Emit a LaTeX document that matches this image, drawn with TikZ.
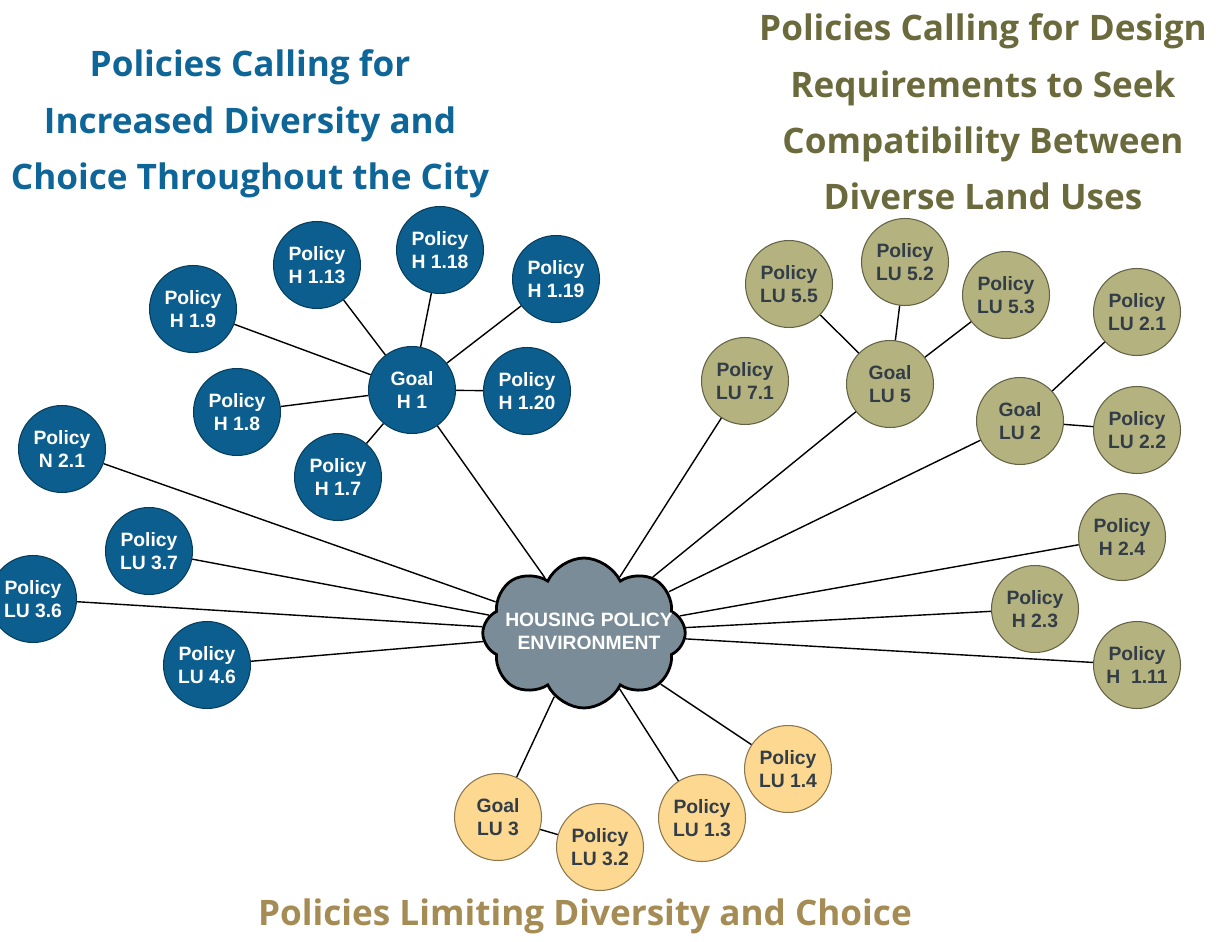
\documentclass[tikz,border=0pt]{standalone}
\usepackage{fontspec}
\setmainfont{Liberation Sans}
\newfontfamily\titrefont{Open Sans}
\usepackage{xcolor}
\usetikzlibrary{shapes.symbols, positioning}

\definecolor{bleuC}{HTML}{0B5E8E}
\definecolor{bleuT}{HTML}{0E6597}
\definecolor{oliveC}{HTML}{B4B380}
\definecolor{oliveT}{HTML}{6B6A3D}
\definecolor{sableC}{HTML}{FCD890}
\definecolor{sableT}{HTML}{A58C55}
\definecolor{nuageC}{HTML}{7A8C97}
\definecolor{encre}{HTML}{333D47}

\begin{document}
\begin{tikzpicture}[
  x=0.02cm, y=-0.02cm,
  pol/.style={circle, minimum size=1.74cm, inner sep=0pt, align=center, line width=0.6pt, font=\bfseries\fontsize{11}{12.8}\selectfont},
  bleu/.style={pol, fill=bleuC, draw=bleuC!65!black, text=white},
  olive/.style={pol, fill=oliveC, draw=oliveC!55!black, text=encre},
  sable/.style={pol, fill=sableC, draw=sableC!55!black, text=encre},
  lien/.style={line width=0.8pt, black},
  titre/.style={align=center, font=\titrefont\bfseries\fontsize{20}{32}\selectfont}
]
  \useasboundingbox (0,0) rectangle (1220,942);
  \begin{scope}
  \clip (0,0) rectangle (1220,942);

  % nuage central
  \node[cloud, cloud puffs=8, cloud puff arc=130, cloud ignores aspect, minimum width=4.05cm, minimum height=3.0cm, inner sep=0pt, draw=black, line width=1.6pt, fill=nuageC] (nuage) at (584,633) {};
  \node[align=center, text=white, font=\bfseries\fontsize{11}{13}\selectfont] (env) at (589,631) {HOUSING POLICY\\ ENVIRONMENT};

  % groupe bleu
  \node[bleu] (h1) at (412,390) {Goal\\ H 1};
  \node[bleu] (h113) at (317,265) {Policy\\ H 1.13};
  \node[bleu] (h118) at (440,250) {Policy\\ H 1.18};
  \node[bleu] (h119) at (556,279) {Policy\\ H 1.19};
  \node[bleu] (h19) at (193,309) {Policy\\ H 1.9};
  \node[bleu] (h120) at (527,391) {Policy\\ H 1.20};
  \node[bleu] (h18) at (237,412) {Policy\\ H 1.8};
  \node[bleu] (h17) at (338,477) {Policy\\ H 1.7};
  \node[bleu] (n21) at (62,449) {Policy\\ N 2.1};
  \node[bleu] (lu37) at (149,551) {Policy\\ LU 3.7};
  \node[bleu] (lu36) at (33,599) {Policy\\ LU 3.6};
  \node[bleu] (lu46) at (207,665) {Policy\\ LU 4.6};

  % groupe olive
  \node[olive] (lu5) at (890,384) {Goal\\ LU 5};
  \node[olive] (lu55) at (789,284) {Policy\\ LU 5.5};
  \node[olive] (lu52) at (905,262) {Policy\\ LU 5.2};
  \node[olive] (lu53) at (1006,295) {Policy\\ LU 5.3};
  \node[olive] (lu71) at (745,381) {Policy\\ LU 7.1};
  \node[olive] (lu2) at (1020,421) {Goal\\ LU 2};
  \node[olive] (lu21) at (1137,312) {Policy\\ LU 2.1};
  \node[olive] (lu22) at (1137,430) {Policy\\ LU 2.2};
  \node[olive] (h24) at (1122,537) {Policy\\ H 2.4};
  \node[olive] (h23) at (1035,609) {Policy\\ H 2.3};
  \node[olive] (h111) at (1137,665) {Policy\\ H~ 1.11};

  % groupe sable
  \node[sable] (lu3) at (498,817) {Goal\\ LU 3};
  \node[sable] (lu32) at (600,847) {Policy\\ LU 3.2};
  \node[sable] (lu13) at (702,818) {Policy\\ LU 1.3};
  \node[sable] (lu14) at (788,769) {Policy\\ LU 1.4};

  % liens
  \draw[lien] (nuage) -- (h1);
  \draw[lien] (nuage) -- (n21);
  \draw[lien] (nuage) -- (lu37);
  \draw[lien] (nuage) -- (lu36);
  \draw[lien] (nuage) -- (lu46);
  \draw[lien] (nuage) -- (lu71);
  \draw[lien] (nuage) -- (lu5);
  \draw[lien] (nuage) -- (lu2);
  \draw[lien] (nuage) -- (h24);
  \draw[lien] (nuage) -- (h23);
  \draw[lien] (nuage) -- (h111);
  \draw[lien] (nuage) -- (lu3);
  \draw[lien] (nuage) -- (lu13);
  \draw[lien] (nuage) -- (lu14);
  \draw[lien] (h1) -- (h113);
  \draw[lien] (h1) -- (h118);
  \draw[lien] (h1) -- (h119);
  \draw[lien] (h1) -- (h120);
  \draw[lien] (h1) -- (h19);
  \draw[lien] (h1) -- (h18);
  \draw[lien] (h1) -- (h17);
  \draw[lien] (lu5) -- (lu55);
  \draw[lien] (lu5) -- (lu52);
  \draw[lien] (lu5) -- (lu53);
  \draw[lien] (lu2) -- (lu21);
  \draw[lien] (lu2) -- (lu22);
  \draw[lien] (lu3) -- (lu32);

  % titres
  \node[titre, text=bleuT] (tbleu) at (250,124) {Policies Calling for\\ Increased Diversity and\\ Choice Throughout the City};
  \node[titre, text=oliveT] (tolive) at (983,112) {Policies Calling for Design\\ Requirements to Seek\\ Compatibility Between\\ Diverse Land Uses};
  \node[titre, text=sableT] (tsable) at (585,916) {Policies Limiting Diversity and Choice};
  \end{scope}
\end{tikzpicture}
\end{document}
